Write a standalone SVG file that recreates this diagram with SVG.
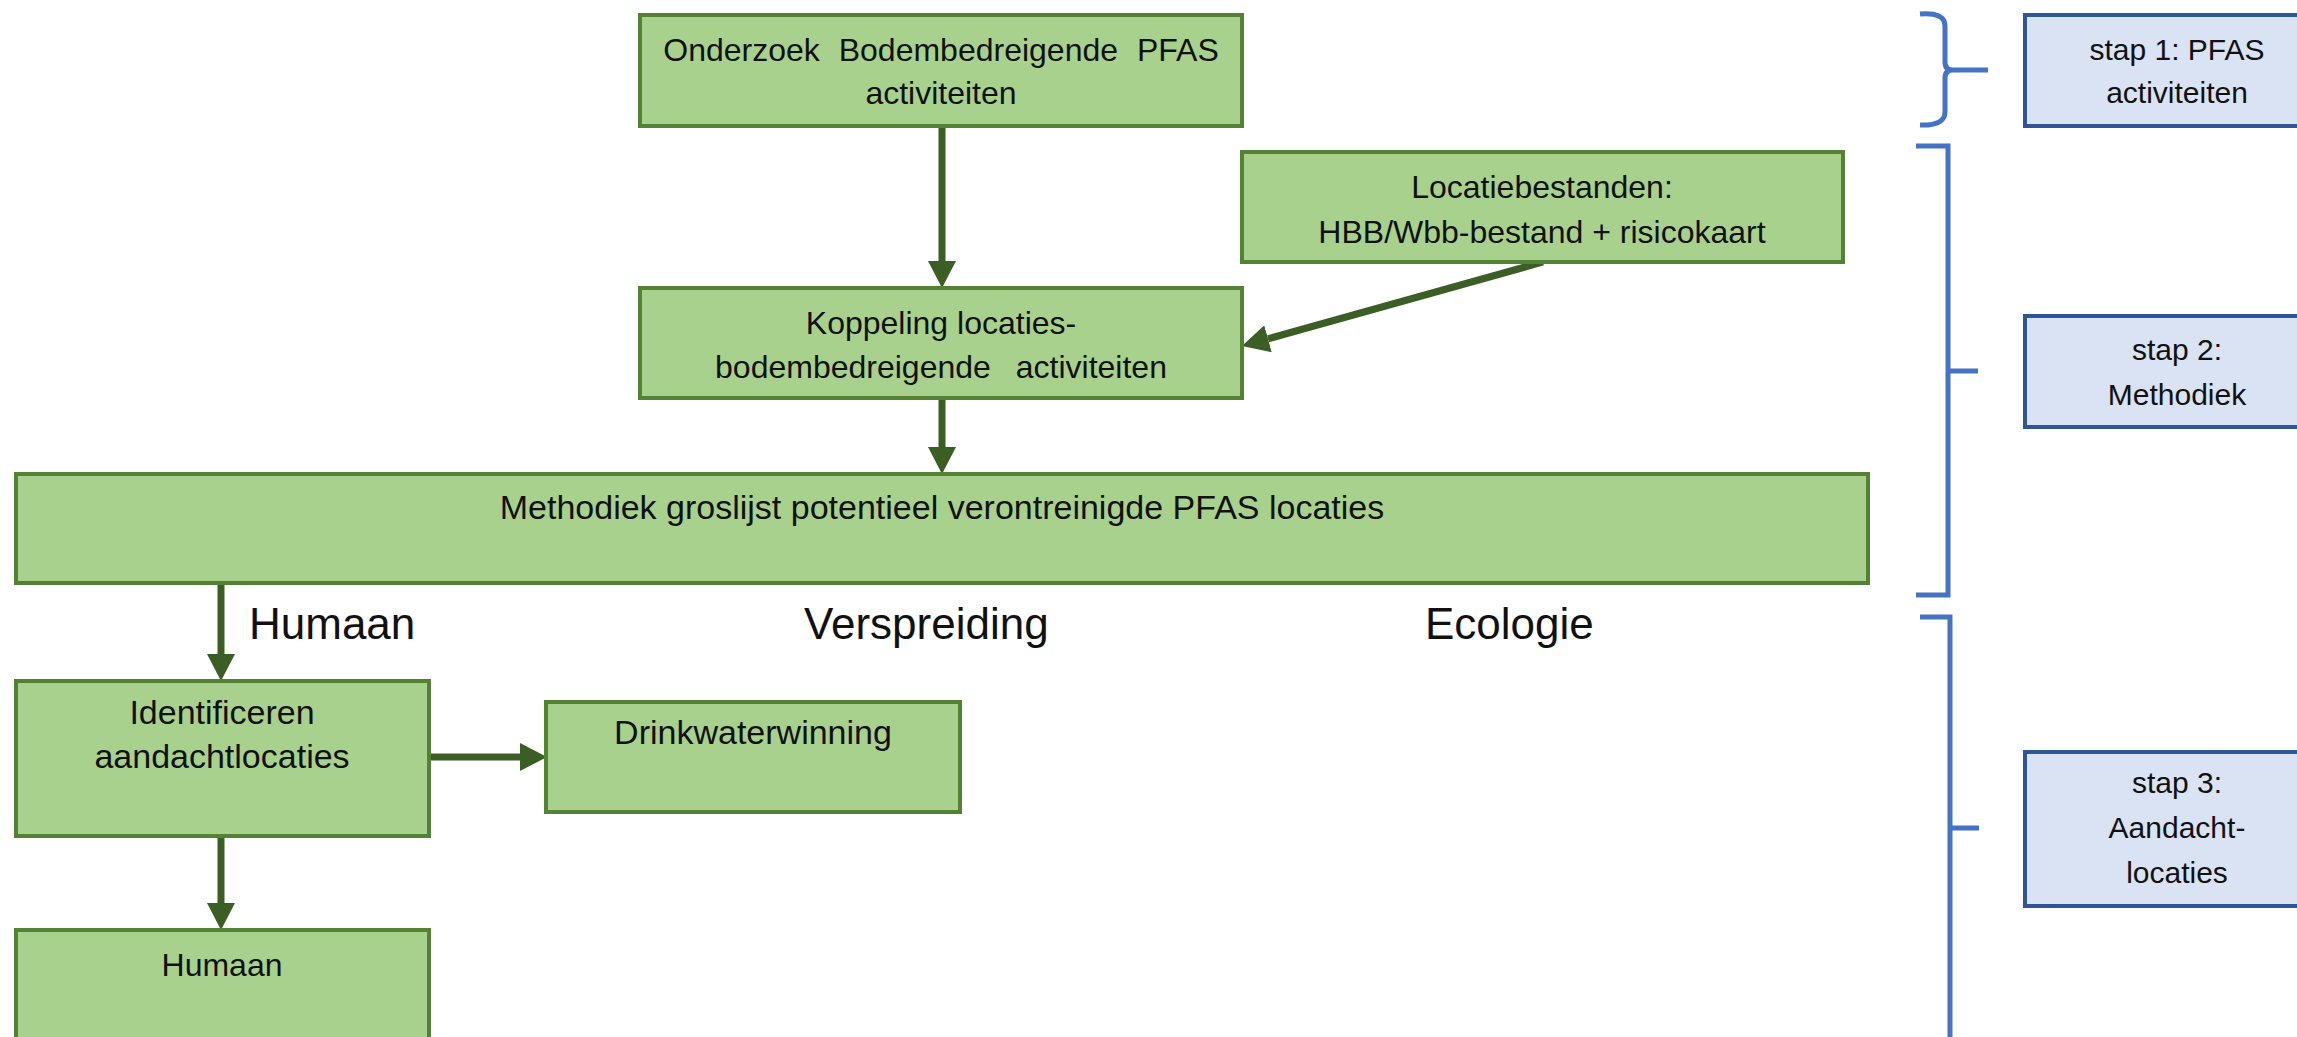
<svg xmlns="http://www.w3.org/2000/svg" width="2297" height="1037" viewBox="0 0 2297 1037">
<defs>
<style>
.g{fill:#A9D18E;stroke:#548235;stroke-width:4}
.b{fill:#DAE3F3;stroke:#2F5597;stroke-width:4}
.t{font-family:"Liberation Sans",Arial,sans-serif;font-size:32px;fill:#111;text-anchor:middle}
.tl{font-family:"Liberation Sans",Arial,sans-serif;font-size:34px;fill:#111;text-anchor:middle}
.ts{font-family:"Liberation Sans",Arial,sans-serif;font-size:30px;fill:#111;text-anchor:middle}
.lab{font-family:"Liberation Sans",Arial,sans-serif;font-size:44px;fill:#111}
.c{stroke:#3B5E24;stroke-width:7;fill:none;marker-end:url(#ah)}
.br{stroke:#4472C4;stroke-width:5;fill:none}
</style>
<marker id="ah" markerUnits="userSpaceOnUse" markerWidth="28" markerHeight="28" refX="0" refY="14" orient="auto">
<path d="M0,0 L27,14 L0,28 z" fill="#3B5E24"/>
</marker>
</defs>
<rect width="2297" height="1037" fill="#fff"/>

<g id="connectors">
<line class="c" x1="942" y1="127" x2="942" y2="261"/>
<line class="c" x1="942" y1="399" x2="942" y2="447"/>
<line class="c" x1="1543" y1="262" x2="1268" y2="338.8"/>
<line class="c" x1="221" y1="584" x2="221" y2="654"/>
<line class="c" x1="429" y1="757" x2="520" y2="757"/>
<line class="c" x1="221" y1="837" x2="221" y2="903"/>
</g>

<g id="n-onderzoek">
<rect class="g" x="640" y="15" width="602" height="111"/>
<text class="t" x="941" y="61" word-spacing="10">Onderzoek Bodembedreigende PFAS</text>
<text class="t" x="941" y="104">activiteiten</text>
</g>

<g id="n-locatiebestanden">
<rect class="g" x="1242" y="152" width="601" height="110"/>
<text class="t" x="1542" y="198">Locatiebestanden:</text>
<text class="t" x="1542" y="243">HBB/Wbb-bestand + risicokaart</text>
</g>

<g id="n-koppeling">
<rect class="g" x="640" y="288" width="602" height="110"/>
<text class="t" x="941" y="334">Koppeling locaties-</text>
<text class="t" x="941" y="378" word-spacing="16">bodembedreigende activiteiten</text>
</g>

<g id="n-methodiek">
<rect class="g" x="16" y="474" width="1852" height="109"/>
<text class="tl" x="942" y="519">Methodiek groslijst potentieel verontreinigde PFAS locaties</text>
</g>

<g id="labels">
<text class="lab" x="249" y="639">Humaan</text>
<text class="lab" x="804" y="639">Verspreiding</text>
<text class="lab" x="1425" y="639">Ecologie</text>
</g>

<g id="n-identificeren">
<rect class="g" x="16" y="681" width="413" height="155"/>
<text class="tl" x="222" y="724">Identificeren</text>
<text class="tl" x="222" y="768">aandachtlocaties</text>
</g>

<g id="n-drinkwater">
<rect class="g" x="546" y="702" width="414" height="110"/>
<text class="tl" x="753" y="744">Drinkwaterwinning</text>
</g>

<g id="n-humaan">
<rect class="g" x="16" y="930" width="413" height="130"/>
<text class="t" x="222" y="976">Humaan</text>
</g>

<g id="brackets">
<path class="br" d="M1920,14 Q1945,12 1945,26 L1945,62 Q1945,70 1953,70 L1988,70 M1953,70 Q1945,70 1945,78 L1945,112 Q1945,126 1920,125"/>
<path class="br" d="M1916,146 L1948,146 L1948,595 L1916,595 M1948,371 L1978,371"/>
<path class="br" d="M1920,617 L1950,617 L1950,1045 M1950,828 L1979,828"/>
</g>

<g id="n-stap1">
<rect class="b" x="2025" y="15" width="320" height="111"/>
<text class="ts" x="2177" y="60">stap 1: PFAS</text>
<text class="ts" x="2177" y="103">activiteiten</text>
</g>
<g id="n-stap2">
<rect class="b" x="2025" y="316" width="320" height="111"/>
<text class="ts" x="2177" y="360">stap 2:</text>
<text class="ts" x="2177" y="405">Methodiek</text>
</g>
<g id="n-stap3">
<rect class="b" x="2025" y="752" width="320" height="154"/>
<text class="ts" x="2177" y="793">stap 3:</text>
<text class="ts" x="2177" y="838">Aandacht-</text>
<text class="ts" x="2177" y="883">locaties</text>
</g>
</svg>
